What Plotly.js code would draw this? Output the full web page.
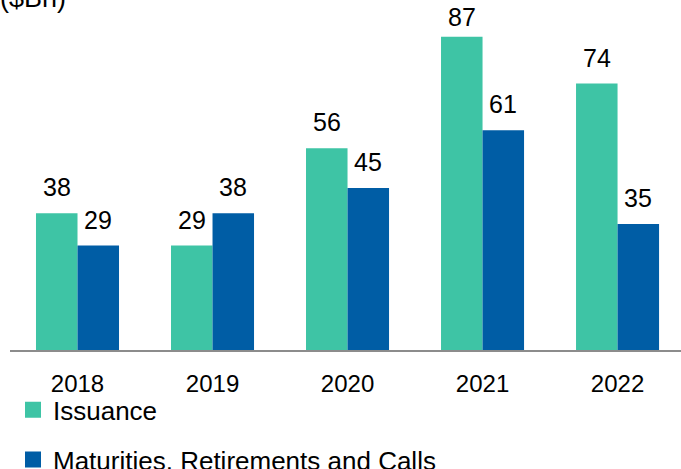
<!DOCTYPE html>
<html>
<head>
<meta charset="utf-8">
<script src="https://cdn.plot.ly/plotly-3.0.1.min.js"></script>
<style>html,body{margin:0;padding:0;background:#fff;}#chart{width:681px;height:469px;}</style>
</head>
<body>
<div id="chart"></div>
<script>
const years = ['2018', '2019', '2020', '2021', '2022'];
const issuance = [38, 29, 56, 87, 74];
const maturities = [29, 38, 45, 61, 35];
const seriesNames = ['Issuance', 'Maturities, Retirements and Calls'];
const colors = ['#3EC4A5', '#005DA5'];
const unitLabel = '($Bn)';

const FONT = '"Liberation Sans", Arial, sans-serif';
const halfBar = 0.155;

function labels(vals, shift) {
  return vals.map((v, i) => ({
    x: i + shift, y: v, xref: 'x', yref: 'y',
    text: String(v), showarrow: false, yanchor: 'bottom', yshift: v > 80 ? 4 : 10,
    font: {family: FONT, size: 25, color: '#000'}
  }));
}

const traces = [
  {type: 'bar', x: years, y: issuance, name: seriesNames[0], marker: {color: colors[0]}, showlegend: false, hoverinfo: 'skip'},
  {type: 'bar', x: years, y: maturities, name: seriesNames[1], marker: {color: colors[1]}, showlegend: false, hoverinfo: 'skip'},
  {type: 'scatter', mode: 'markers', x: [null], y: [null], name: seriesNames[0], legendgroup: 'a',
   marker: {symbol: 'square', size: 20, color: colors[0]}},
  {type: 'scatter', mode: 'markers', x: [null], y: [null], name: seriesNames[1], legendgroup: 'b',
   marker: {symbol: 'square', size: 20, color: colors[1]}}
];

const layout = {
  width: 681, height: 469,
  margin: {l: 10, r: 0, t: 0, b: 119, autoexpand: false},
  paper_bgcolor: '#fff', plot_bgcolor: '#fff',
  barmode: 'group', bargap: 0.385, bargroupgap: 0,
  font: {family: FONT, size: 24, color: '#000'},
  xaxis: {
    type: 'category', range: [-0.5, 4.47], automargin: false,
    showline: true, linecolor: '#8c8c8c', linewidth: 1.5,
    ticks: '', showgrid: false, zeroline: false,
    tickfont: {family: FONT, size: 24, color: '#000'},
    ticklabelstandoff: 12
  },
  yaxis: {range: [0, 97.2], visible: false, showgrid: false, zeroline: false, automargin: false},
  showlegend: true,
  legend: {
    x: 3/671, xanchor: 'left', y: -0.104, yanchor: 'top',
    orientation: 'v', tracegroupgap: 13,
    font: {family: FONT, size: 26, color: '#000'},
    bgcolor: 'rgba(0,0,0,0)'
  },
  annotations: labels(issuance, -halfBar).concat(labels(maturities, halfBar)).concat([
    {xref: 'paper', yref: 'paper', x: -12/671, y: 0.957, xanchor: 'left', yanchor: 'bottom',
     text: unitLabel, showarrow: false, font: {family: FONT, size: 27, color: '#000'}}
  ])
};

Plotly.newPlot('chart', traces, layout, {displayModeBar: false, staticPlot: true});
</script>
</body>
</html>
